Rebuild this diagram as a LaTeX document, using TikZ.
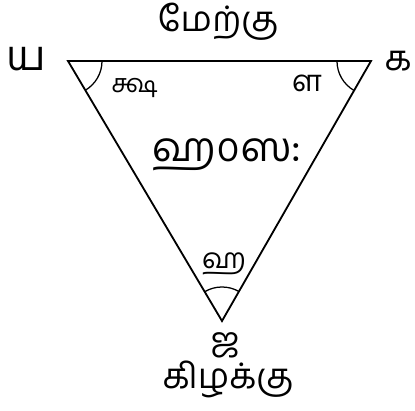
\documentclass[tikz,border=0pt]{standalone}
\usepackage{fontspec}
\newfontfamily\tamil[Script=Tamil]{Hind Madurai}
\usetikzlibrary{angles}
\tikzstyle{letter}=[inner sep=0pt, anchor=base, font=\tamil\fontsize{25}{28}\selectfont]
\tikzstyle{small}=[inner sep=0pt, anchor=base, font=\tamil\fontsize{21}{24}\selectfont]
\tikzstyle{corner}=[draw, line width=0.9pt, angle radius=0.85cm]

\begin{document}
\begin{tikzpicture}[x=0.025cm, y=-0.025cm]
				\useasboundingbox (0,0) rectangle (415,411);
				% Vertices of the triangle
				\coordinate (ya) at ( 68, 61);
				\coordinate (ka) at (371, 61);
				\coordinate (ja) at (222,321);
				\draw[line width=1.3pt, line join=miter] (ya) -- (ka) -- (ja) -- cycle;

				% Angle marks
				\pic[corner] {angle = ja--ya--ka};
				\pic[corner] {angle = ya--ka--ja};
				\pic[corner] {angle = ka--ja--ya};

				% Directions
				\node[letter] (west) at (218, 32) {மேற்கு};
				\node[letter] (east) at (228,389) {கிழக்கு};

				% Letters outside the corners
				\node[letter, font=\tamil\fontsize{30}{33}\selectfont] (lya) at ( 26, 71) {ய};
				\node[letter] (lka) at (398, 71) {க};
				\node[letter, font=\tamil\fontsize{24}{27}\selectfont] (lja) at (225,352) {ஜ};

				% Letters inside the corners
				\node[small, font=\tamil\fontsize{18}{21}\selectfont] (lksha) at (135, 93) {க்ஷ};
				\node[small] (lla) at (307, 92) {ள};
				\node[small, font=\tamil\fontsize{20}{23}\selectfont] (lha) at (224,269) {ஹ};

				\node[letter, font=\tamil\fontsize{29}{32}\selectfont] (centre) at (227,162) {ஹ௦ஸ:};
			\end{tikzpicture}
\end{document}
